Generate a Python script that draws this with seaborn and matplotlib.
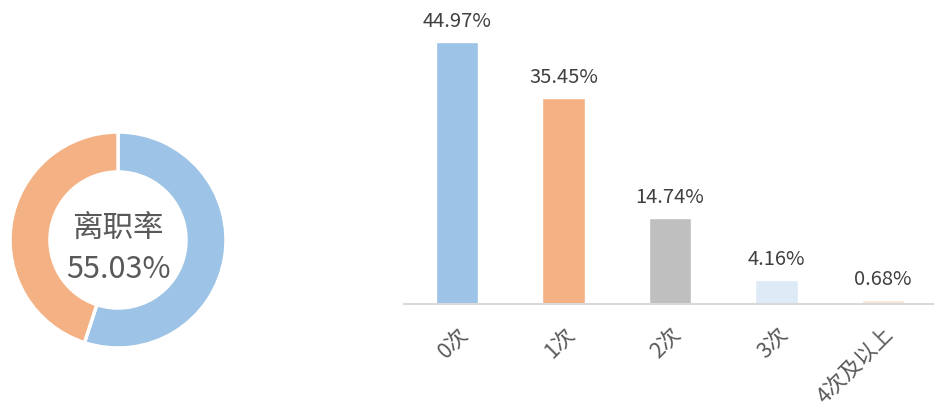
import pandas as pd
import seaborn as sns
import matplotlib.pyplot as plt

# donut data
rate_labels = ["离职", "在职"]
rate_values = [55.03, 44.97]
rate_colors = ["#9DC3E6", "#F4B183"]

# bar data
categories = ["0次", "1次", "2次", "3次", "4次及以上"]
shares = [44.97, 35.45, 14.74, 4.16, 0.68]
bar_colors = ["#9DC3E6", "#F4B183", "#BFBFBF", "#DEEBF7", "#FBE5D6"]

sns.set_style("white")
plt.rcParams['font.family'] = ['Noto Sans CJK SC', 'DejaVu Sans']
text_color = "#595959"

W, H = 934, 414
fig = plt.figure(figsize=(W / 100, H / 100), dpi=100)

# donut
cx, cy, r = 118, 241, 108
side = 2 * r * 1.02
ax1 = fig.add_axes([(cx - side / 2) / W, (H - cy - side / 2) / H, side / W, side / H])
ax1.pie(rate_values, colors=rate_colors, startangle=90, counterclock=False,
        radius=1, wedgeprops=dict(width=0.37, edgecolor="white", linewidth=2.5))
ax1.set_xlim(-1.02, 1.02)
ax1.set_ylim(-1.02, 1.02)
ax1.set_aspect("equal")
ax1.axis("off")
ax1.text(0, 0.12, "离职率", ha="center", va="center", fontsize=22, color=text_color)
ax1.text(0, -0.26, f"{rate_values[0]:.2f}%", ha="center", va="center", fontsize=22, color=text_color)

# bars
left, right, top, bottom = 404, 936, 14, 305
ax2 = fig.add_axes([left / W, (H - bottom) / H, (right - left) / W, (bottom - top) / H])
df = pd.DataFrame(dict(cat=categories, val=shares))
sns.barplot(df, x="cat", y="val", hue="cat", palette=bar_colors, width=0.4,
            legend=False, ax=ax2, saturation=1)
ax2.set_xlim(-0.5, 4.5)
ax2.set_ylim(0, 50)
for c in ax2.containers:
    ax2.bar_label(c, labels=[f"{v:.2f}%" for v in c.datavalues], padding=8,
                  fontsize=14.5, color="#404040")
for s in ["top", "left", "right"]:
    ax2.spines[s].set_visible(False)
ax2.spines["bottom"].set_color("#D9D9D9")
ax2.spines["bottom"].set_linewidth(1.5)
ax2.set_yticks([])
ax2.set_xlabel("")
ax2.set_ylabel("")
ax2.tick_params(axis="x", length=0, pad=13)
plt.setp(ax2.get_xticklabels(), rotation=45, ha="right", rotation_mode="anchor",
         fontsize=15.5, color=text_color)

plt.savefig("out.png", dpi=100)
